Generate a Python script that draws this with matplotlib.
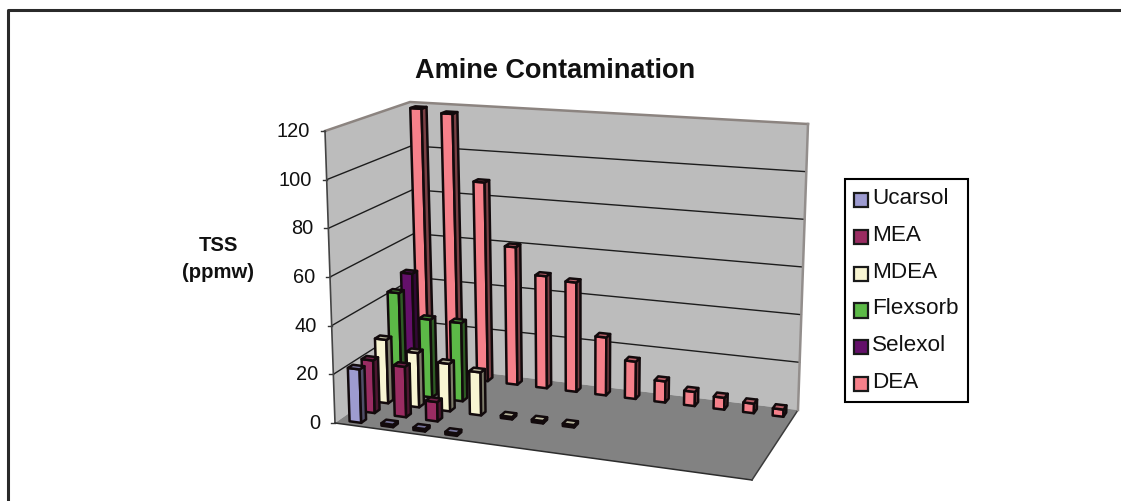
import numpy as np
import matplotlib
matplotlib.use("Agg")
import matplotlib.pyplot as plt
from matplotlib.patches import Patch, Polygon

plt.rcParams["font.family"] = ["Liberation Sans", "DejaVu Sans"]

# rows run front (Ucarsol) to back (DEA), 13 sites along the floor
SERIES = ["Ucarsol", "MEA", "MDEA", "Flexsorb", "Selexol", "DEA"]
COLORS = ["#9d9bd0", "#9a2c62", "#f8f5d2", "#5cb947", "#64106a", "#f6808a"]
UCARSOL = [22, 1, 1, 1, 0, 0, 0, 0, 0, 0, 0, 0, 0]
MEA = [22, 21, 8, 0, 0, 0, 0, 0, 0, 0, 0, 0, 0]
MDEA = [27, 23, 20, 18, 1, 1, 1, 0, 0, 0, 0, 0, 0]
FLEXSORB = [43.5, 33.5, 33.5, 0, 0, 0, 0, 0, 0, 0, 0, 0, 0]
SELEXOL = [48.5, 0, 0, 0, 0, 0, 0, 0, 0, 0, 0, 0, 0]
DEA = [119, 117.5, 88, 60.5, 49, 47.5, 25, 16, 9, 6, 5, 4, 3]
ROWS = [UCARSOL, MEA, MDEA, FLEXSORB, SELEXOL, DEA]
YTICKS = [0, 20, 40, 60, 80, 100, 120]
YMAX = 120.0

# pixel corners of the 3D box: (u, v) floor position at z=0 and at z=YMAX
FLOOR = {"fl": (335, 423), "fr": (752, 480), "bl": (418, 365), "br": (798, 410)}
ROOF = {"fl": (325, 131), "fr": (762, 170), "bl": (410, 102), "br": (808, 124)}
BAR_W = 0.028
BAR_D = 0.06
WALL = "#bcbcbc"
FLOOR_COL = "#828282"
EDGE = "#120a0c"


def bilinear(c, u, v):
    c = {k: np.array(p, dtype=float) for (k, p) in c.items()}
    front = c["fl"] * (1 - u) + c["fr"] * u
    back = c["bl"] * (1 - u) + c["br"] * u
    return front * (1 - v) + back * v


def project(u, v, z):
    t = z / YMAX
    return bilinear(FLOOR, u, v) * (1 - t) + bilinear(ROOF, u, v) * t


def shade(color, f):
    return tuple(np.array(matplotlib.colors.to_rgb(color)) * f)


def draw_bar(ax, u, v, value, color):
    u0, u1 = u - BAR_W / 2, u + BAR_W / 2
    v0, v1 = v - BAR_D / 2, v + BAR_D / 2
    faces = [
        ([(u0, v0, 0), (u1, v0, 0), (u1, v0, value), (u0, v0, value)], color),
        ([(u1, v0, 0), (u1, v1, 0), (u1, v1, value), (u1, v0, value)], shade(color, 0.5)),
        ([(u0, v0, value), (u1, v0, value), (u1, v1, value), (u0, v1, value)], shade(color, 0.75)),
    ]
    for (corners, fc) in faces:
        pts = [project(*p) for p in corners]
        ax.add_patch(Polygon(pts, closed=True, fc=fc, ec=EDGE, lw=1.8, joinstyle="round", zorder=5))


fig = plt.figure(figsize=(11.21, 5.01), dpi=100)
ax = fig.add_axes([0, 0, 1, 1])
ax.set_xlim(0, 1121)
ax.set_ylim(501, 0)
ax.axis("off")

# outer frame: only the top and left edges are in the crop
ax.plot([8.3, 8.3, 1121], [501, 9.5, 9.5], color="#2a2a2a", lw=2.2)

# walls and floor
left = [project(0, 0, 0), project(0, 1, 0), project(0, 1, YMAX), project(0, 0, YMAX)]
back = [project(0, 1, 0), project(1, 1, 0), project(1, 1, YMAX), project(0, 1, YMAX)]
floor = [project(0, 0, 0), project(1, 0, 0), project(1, 1, 0), project(0, 1, 0)]
ax.add_patch(Polygon(left, fc=WALL, ec="none", zorder=1))
ax.add_patch(Polygon(back, fc=WALL, ec="none", zorder=1))
ax.add_patch(Polygon(floor, fc=FLOOR_COL, ec="none", zorder=1))

for tick in YTICKS:
    a = project(0, 0, tick)
    b = project(0, 1, tick)
    c = project(1, 1, tick)
    top = tick == YMAX
    if tick > 0:
        ax.plot([a[0], b[0], c[0]], [a[1], b[1], c[1]], color="#8c8480" if top else "#1c1c1c",
                lw=1.8 if top else 1.0, zorder=2)
    ax.plot([a[0] - 4, a[0]], [a[1], a[1]], color="#333333", lw=1.0, zorder=2)
    ax.text(a[0] - 15, a[1] + 0.5, str(tick), ha="right", va="center", fontsize=14.4, color="#111111")

# box edges
for (p, q, col, w) in [((0, 0, 0), (0, 0, YMAX), "#444444", 1.2), ((0, 0, 0), (1, 0, 0), "#2c2c2c", 1.1),
                       ((1, 0, 0), (1, 1, 0), "#3c3c3c", 1.1), ((1, 1, 0), (1, 1, YMAX), "#938e8c", 1.8)]:
    (a, b) = (project(*p), project(*q))
    ax.plot([a[0], b[0]], [a[1], b[1]], color=col, lw=w, zorder=2)

# back rows first so the front rows overlap them
n_cat = len(DEA)
for j in reversed(range(len(ROWS))):
    for i in range(n_cat):
        if ROWS[j][i] > 0:
            draw_bar(ax, (i + 0.5) / n_cat, (j + 0.5) / len(ROWS), ROWS[j][i], COLORS[j])

ax.text(555, 70.5, "Amine Contamination", ha="center", va="center", fontsize=19.5, fontweight="bold", color="#111111")
ax.text(218, 259, "TSS\n(ppmw)", ha="center", va="center", fontsize=14.6, fontweight="bold", color="#111111", linespacing=1.55)

handles = [Patch(fc=c, ec="#1a1a1a", lw=1.6) for c in COLORS]
leg = ax.legend(handles, SERIES, loc="upper left", bbox_to_anchor=(845 / 1121, 1 - 179 / 501), fontsize=16.2,
                frameon=True, fancybox=False, edgecolor="black", framealpha=1, handlelength=0.6, handleheight=0.6,
                handletextpad=0.2, labelspacing=0.7, borderaxespad=0, borderpad=0.4, labelcolor="#111111")
leg.get_frame().set_linewidth(1.5)
leg.set_zorder(6)
# swatches sit a little below the text baseline centre in the original
for h in leg.legend_handles:
    h.set_y(h.get_y() - 3)

fig.savefig("out.png", dpi=100)
